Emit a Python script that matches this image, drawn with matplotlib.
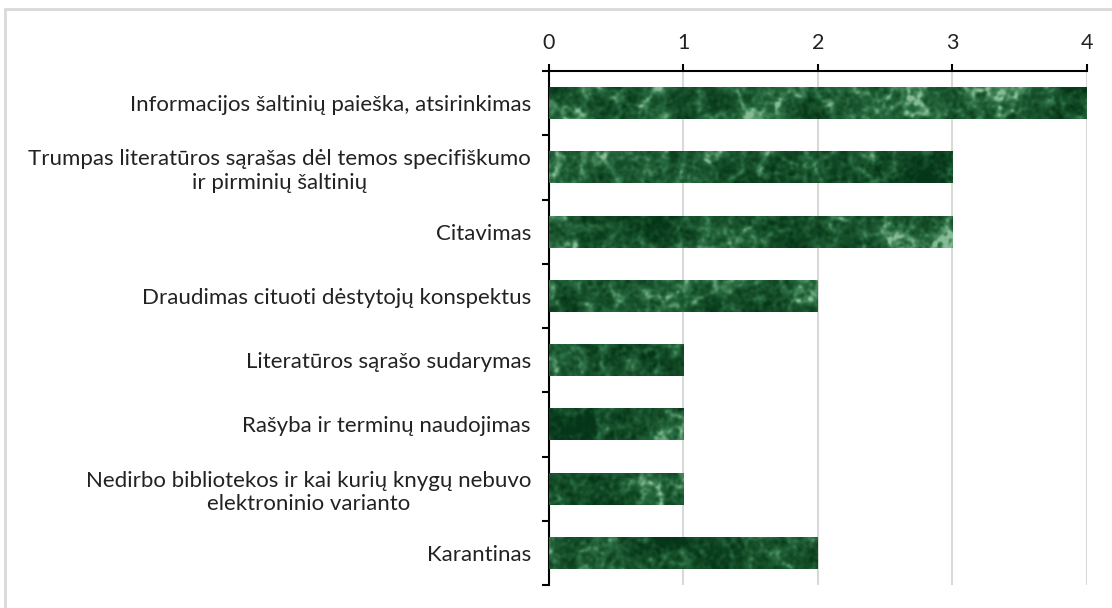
import numpy as np
import matplotlib.pyplot as plt
from matplotlib.colors import LinearSegmentedColormap
from matplotlib.patches import Rectangle

categories = [
    "Informacijos šaltinių paieška, atsirinkimas",
    "Trumpas literatūros sąrašas dėl temos specifiškumo\nir pirminių šaltinių",
    "Citavimas",
    "Draudimas cituoti dėstytojų konspektus",
    "Literatūros sąrašo sudarymas",
    "Rašyba ir terminų naudojimas",
    "Nedirbo bibliotekos ir kai kurių knygų nebuvo\nelektroninio varianto",
    "Karantinas",
]
counts = [4, 3, 3, 2, 1, 1, 1, 2]
xticks = [0, 1, 2, 3, 4]

plt.rcParams['font.family'] = ['Lato', 'DejaVu Sans']

fig = plt.figure(figsize=(11.12, 6.08), dpi=100)
ax = fig.add_axes([0.4937, 0.0378, 0.9775 - 0.4937, 0.8832 - 0.0378])

# chart area border
fig.patches.append(Rectangle((5 / 1112, -0.01), 1.2, 1 - 9 / 608 + 0.01,
                             transform=fig.transFigure, fill=False,
                             edgecolor='#d9d9d9', linewidth=2))

y = np.arange(len(categories))
bars = ax.barh(y, counts, height=0.5, color='#1f5a35', edgecolor='none', zorder=2)


def blur(a, sigma):
    # periodic gaussian blur through the fft, no edge effects
    fy = np.fft.fftfreq(a.shape[0])[:, None]
    fx = np.fft.fftfreq(a.shape[1])[None, :]
    g = np.exp(-2 * (np.pi * sigma) ** 2 * (fx ** 2 + fy ** 2))
    out = np.real(np.fft.ifft2(np.fft.fft2(a) * g))
    return (out - out.mean()) / out.std()


# green marble texture on the bars (styling only)
rng = np.random.default_rng(5)
shape = (520, 540)
base = blur(rng.standard_normal(shape), 16)
vein_src = blur(rng.standard_normal(shape), 7) + 0.5 * base
veins = blur(np.exp(-np.abs(vein_src) / 0.35), 1.5)
fine = blur(rng.standard_normal(shape), 1.5)
tex = 0.6 * base + 0.55 * veins + 0.45 * fine
lo, hi = np.percentile(tex, [1, 99.5])
tex = np.clip((tex - lo) / (hi - lo), 0, 1)
cmap = LinearSegmentedColormap.from_list(
    'marble', ['#06361a', '#0f4522', '#1a552f', '#286a40', '#4a8a5e', '#86bb96'])
for b in bars:
    im = ax.imshow(tex, cmap=cmap, aspect='auto', interpolation='bilinear',
                   extent=[0, 4, len(categories) - 0.5, -0.5], zorder=3)
    im.set_clip_path(b)

ax.set_xlim(0, 4)
ax.set_ylim(len(categories) - 0.5, -0.5)
ax.xaxis.tick_top()
ax.set_xticks(xticks)
ax.set_xticklabels([str(t) for t in xticks], fontsize=15.5, color='#222222')
ax.tick_params(axis='x', length=5, width=1.5, color='black', pad=8)
ax.grid(axis='x', color='#d9d9d9', linewidth=1.5, zorder=0)

ax.set_yticks(y)
ax.set_yticklabels(categories, fontsize=16, ha='right', multialignment='center',
                   linespacing=1.2, color='#222222')
ax.tick_params(axis='y', length=0, pad=13)
ax.set_yticks(np.arange(-0.5, len(categories) + 0.5, 1), minor=True)
ax.tick_params(axis='y', which='minor', length=5, width=1.5, color='black')

for s in ['right', 'bottom']:
    ax.spines[s].set_visible(False)
for s in ['left', 'top']:
    ax.spines[s].set_linewidth(1.5)
    ax.spines[s].set_color('black')

fig.savefig('out.png', dpi=100)
